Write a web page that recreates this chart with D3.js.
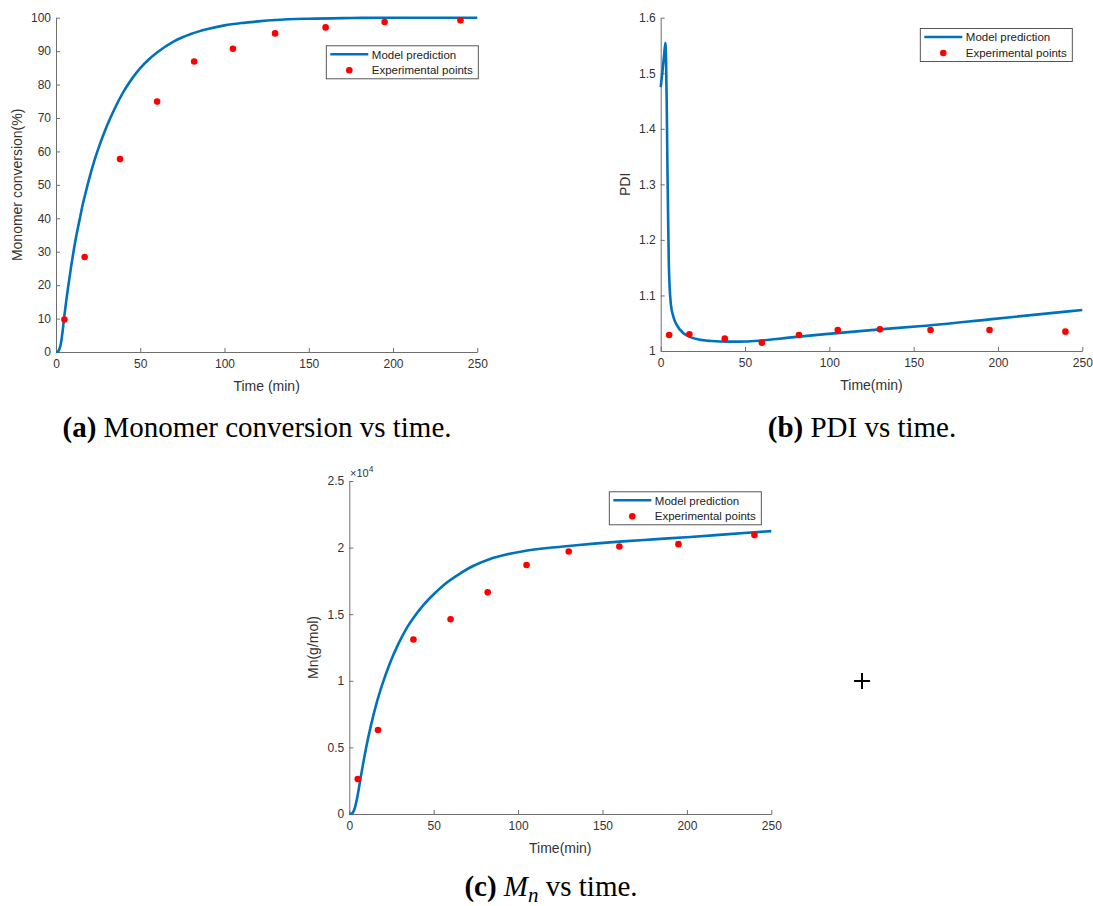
<!DOCTYPE html>
<html>
<head>
<meta charset="utf-8">
<script src="https://cdn.jsdelivr.net/npm/d3@7"></script>
<style>
  html, body { margin: 0; padding: 0; background: #fff; }
  svg { display: block; }
  .tick text { font-family: "Liberation Sans", Arial, Helvetica, sans-serif; font-size: 12px; fill: #333; }
  .axis-label { font-family: "Liberation Sans", Arial, Helvetica, sans-serif; font-size: 14px; fill: #333; }
  .legend text { font-family: "Liberation Sans", Arial, Helvetica, sans-serif; font-size: 11.5px; fill: #222; }
  .caption { font-family: "Liberation Serif", "Times New Roman", serif; font-size: 29px; fill: #000; }
</style>
</head>
<body>
<svg id="fig" width="1093" height="906"></svg>
<script>
// Shared time axis
const xTicks = [0, 50, 100, 150, 200, 250];

// Experimental sampling times (min)
const expTime = [5, 17, 38, 60, 82, 105, 130, 160, 195, 240];

// (a) Monomer conversion (%)
const convExp = [9.7, 28.4, 57.7, 74.9, 86.9, 90.7, 95.3, 97.1, 98.7, 99.2];
const convModelTime = [0, 1, 2, 3, 4, 5, 6, 7, 8, 9, 10, 12, 14, 16, 18, 20, 23, 26, 30, 35, 40, 45, 50, 55, 60, 70, 80, 90, 100, 110, 120, 130, 150, 175, 200, 250];
const convModel = [0, 0.1, 0.8, 2.8, 6.5, 11, 15, 18.7, 22.2, 25.6, 28.8, 34.6, 39.6, 44.4, 48.5, 52.4, 57.6, 62.1, 67.4, 73, 77.8, 81.7, 84.9, 87.5, 89.6, 92.9, 95.1, 96.6, 97.7, 98.4, 98.9, 99.3, 99.7, 99.9, 100, 100];
const convTicks = [0, 10, 20, 30, 40, 50, 60, 70, 80, 90, 100];

// (b) Polydispersity index
const pdiExp = [1.0288, 1.030, 1.0222, 1.015, 1.0288, 1.0378, 1.039, 1.0378, 1.0378, 1.0348];
const pdiModelTime = [0, 1, 2, 2.8, 3.2, 3.6, 4, 4.4, 4.8, 5.3, 6, 7.5, 9.5, 13.5, 17, 22, 30, 40, 50, 60, 76, 96, 130, 155, 195, 250];
const pdiModel = [1.475, 1.502, 1.532, 1.555, 1.52, 1.44, 1.33, 1.24, 1.16, 1.115, 1.085, 1.062, 1.047, 1.032, 1.026, 1.021, 1.018, 1.0168, 1.017, 1.019, 1.024, 1.030, 1.039, 1.045, 1.057, 1.0738];
const pdiTicks = [1, 1.1, 1.2, 1.3, 1.4, 1.5, 1.6];

// (c) Number-average molecular weight (x 10^4 g/mol)
const mnExp = [0.262, 0.631, 1.31, 1.462, 1.664, 1.869, 1.971, 2.008, 2.026, 2.094];
const mnModelTime = [0, 1.5, 2.5, 3.5, 4.5, 5.5, 6.5, 8, 10, 13, 16, 20, 24, 29, 34, 39, 44, 50, 56, 64, 73, 83, 93, 103, 116, 130, 145, 162, 180, 202, 225, 250];
const mnModel = [0, 0.003, 0.02, 0.055, 0.11, 0.18, 0.255, 0.365, 0.5, 0.675, 0.825, 0.99, 1.13, 1.275, 1.395, 1.49, 1.57, 1.65, 1.72, 1.792, 1.86, 1.913, 1.948, 1.973, 1.995, 2.012, 2.03, 2.047, 2.062, 2.08, 2.101, 2.124];
const mnTicks = [0, 0.5, 1, 1.5, 2, 2.5];

const legendLabels = ["Model prediction", "Experimental points"];

const BLUE = "#0072BD";
const RED = "#FF0000";
const AXIS = "#6e6e6e";

const svg = d3.select("#fig");
svg.append("rect").attr("width", 1093).attr("height", 906).attr("fill", "#fff");

function panel(cfg) {
  const g = svg.append("g");
  const x = d3.scaleLinear().domain([0, 250]).range([cfg.left, cfg.right]);
  const y = d3.scaleLinear().domain(cfg.yDomain).range([cfg.bottom, cfg.top]);

  // Axes (MATLAB style: box off, ticks pointing inward)
  const xAxis = d3.axisBottom(x).tickValues(xTicks).tickFormat(d3.format("d"))
    .tickSizeInner(-4).tickSizeOuter(0).tickPadding(7);
  const yAxis = d3.axisLeft(y).tickValues(cfg.yTicks).tickFormat(cfg.yFormat)
    .tickSizeInner(-4).tickSizeOuter(0).tickPadding(5);

  const gx = g.append("g").attr("transform", `translate(0,${cfg.bottom})`).call(xAxis);
  const gy = g.append("g").attr("transform", `translate(${cfg.left},0)`).call(yAxis);
  [gx, gy].forEach(a => {
    a.select(".domain").attr("stroke", AXIS).attr("stroke-width", 1);
    a.selectAll(".tick line").attr("stroke", AXIS).attr("stroke-width", 1);
    a.attr("font-family", null).attr("font-size", null);
  });

  // Axis labels
  g.append("text").attr("class", "axis-label")
    .attr("x", (cfg.left + cfg.right) / 2).attr("y", cfg.bottom + 39)
    .attr("text-anchor", "middle").text(cfg.xLabel);
  g.append("text").attr("class", "axis-label")
    .attr("transform", `translate(${cfg.left - cfg.yLabelOffset},${(cfg.top + cfg.bottom) / 2}) rotate(-90)`)
    .attr("text-anchor", "middle").text(cfg.yLabel);

  // Model curve
  const line = d3.line()
    .x((d, i) => x(cfg.modelTime[i]))
    .y(d => y(d))
    .curve(d3.curveMonotoneX);
  g.append("path").datum(cfg.model)
    .attr("d", line)
    .attr("fill", "none").attr("stroke", BLUE).attr("stroke-width", 2.6)
    .attr("stroke-linejoin", "round");

  // Experimental points
  g.selectAll("circle.exp").data(cfg.exp).join("circle")
    .attr("class", "exp")
    .attr("cx", (d, i) => x(expTime[i]))
    .attr("cy", d => y(d))
    .attr("r", 3.3).attr("fill", RED);

  // Legend
  const lg = g.append("g").attr("class", "legend")
    .attr("transform", `translate(${cfg.legend[0]},${cfg.legend[1]})`);
  lg.append("rect").attr("width", 152).attr("height", 33)
    .attr("fill", "#fff").attr("stroke", "#444").attr("stroke-width", 0.9);
  lg.append("line").attr("x1", 4).attr("x2", 42).attr("y1", 8.5).attr("y2", 8.5)
    .attr("stroke", BLUE).attr("stroke-width", 2.6);
  lg.append("circle").attr("cx", 23).attr("cy", 24.5).attr("r", 3.3).attr("fill", RED);
  lg.append("text").attr("x", 45.5).attr("y", 12.8).text(legendLabels[0]);
  lg.append("text").attr("x", 45.5).attr("y", 28.5).text(legendLabels[1]);

  return { g, x, y };
}

// (a) Monomer conversion vs time
panel({
  left: 56, right: 477.3, top: 17.7, bottom: 352,
  yDomain: [0, 100], yTicks: convTicks, yFormat: d3.format("d"),
  xLabel: "Time (min)", yLabel: "Monomer conversion(%)", yLabelOffset: 34,
  modelTime: convModelTime, model: convModel, exp: convExp,
  legend: [326.3, 45.8]
});

// (b) PDI vs time
panel({
  left: 660.7, right: 1082.3, top: 17.7, bottom: 351,
  yDomain: [1, 1.6], yTicks: pdiTicks, yFormat: d => d3.format("~g")(d),
  xLabel: "Time(min)", yLabel: "PDI", yLabelOffset: 31,
  modelTime: pdiModelTime, model: pdiModel, exp: pdiExp,
  legend: [920.3, 28.5]
});

// (c) Mn vs time
const pc = panel({
  left: 349.3, right: 771.3, top: 481, bottom: 814,
  yDomain: [0, 2.5], yTicks: mnTicks, yFormat: d => d3.format("~g")(d),
  xLabel: "Time(min)", yLabel: "Mn(g/mol)", yLabelOffset: 31,
  modelTime: mnModelTime, model: mnModel, exp: mnExp,
  legend: [609.3, 491.8]
});

// Exponent multiplier for the Mn axis
const mult = pc.g.append("text").attr("class", "tick")
  .attr("x", 350).attr("y", 477)
  .style("font-family", "'Liberation Sans', Arial, sans-serif")
  .style("font-size", "11px").style("fill", "#333");
mult.append("tspan").text("\u00d710");
mult.append("tspan").attr("dy", -5).style("font-size", "8.5px").text("4");

// Sub-figure captions
function caption(cx, cy, parts) {
  const t = svg.append("text").attr("class", "caption")
    .attr("x", cx).attr("y", cy).attr("text-anchor", "middle");
  parts.forEach(p => {
    const s = t.append("tspan").text(p.text);
    if (p.bold) s.attr("font-weight", "bold");
    if (p.italic) s.attr("font-style", "italic");
    if (p.sub) s.attr("dy", p.sub).style("font-size", "21px");
    if (p.dy) s.attr("dy", p.dy);
  });
}
caption(257, 437, [{ text: "(a)", bold: true }, { text: " Monomer conversion vs time." }]);
caption(862, 437, [{ text: "(b)", bold: true }, { text: " PDI vs time." }]);
caption(551, 896, [
  { text: "(c)", bold: true }, { text: " " },
  { text: "M", italic: true }, { text: "n", italic: true, sub: 6 },
  { text: " vs time.", dy: -6 }
]);

// Stray cross marker on the right of panel (c)
const cross = svg.append("g").attr("transform", "translate(862,681)")
  .attr("stroke", "#000").attr("stroke-width", 2);
cross.append("line").attr("x1", -8).attr("x2", 8).attr("y1", 0).attr("y2", 0);
cross.append("line").attr("x1", 0).attr("x2", 0).attr("y1", -8).attr("y2", 8);
</script>
</body>
</html>
